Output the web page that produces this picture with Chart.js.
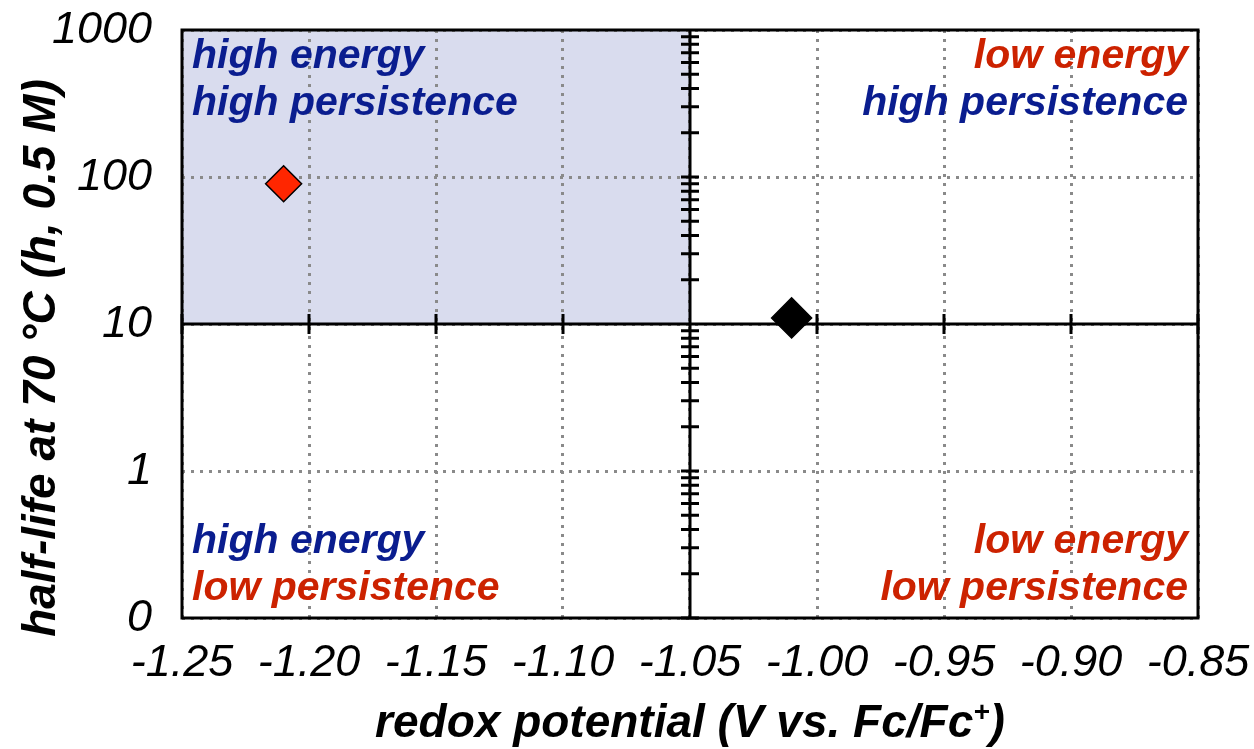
<!DOCTYPE html>
<html>
<head>
<meta charset="utf-8">
<script src="https://cdn.jsdelivr.net/npm/chart.js@4"></script>
<style>
  body { margin: 0; background: #fff; }
  #wrap { width: 1254px; height: 749px; }
</style>
</head>
<body>
<div id="wrap"><canvas id="chart"></canvas></div>
<script>
// data
const potentials = [-1.21, -1.01]
const halfLives = [90, 11]
const pointColors = ['#ff2600', '#000000']
const pointSizes = [18, 20]

const xTicks = [-1.25, -1.20, -1.15, -1.10, -1.05, -1.00, -0.95, -0.90, -0.85]
const yTicks = [0.1, 1, 10, 100, 1000]
const yTickLabels = ['0', '1', '10', '100', '1000']

// quadrant split and shaded box
const splitX = -1.05
const splitY = 10
const shadeX = [-1.25, -1.05]
const shadeY = [10, 1000]

const blue = '#0a1d8f'
const red = '#cc2200'
const topLeft = [['high energy', blue], ['high persistence', blue]]
const topRight = [['low energy', red], ['high persistence', blue]]
const bottomLeft = [['high energy', blue], ['low persistence', red]]
const bottomRight = [['low energy', red], ['low persistence', red]]

const xTitle = ['redox potential (V vs. Fc/Fc', '+', ')']
const yTitle = 'half-life at 70 \u00B0C (h, 0.5 M)'

const fontFamily = "'Liberation Sans', Arial, sans-serif"

const quadrants = {
    id: 'quadrants',
    beforeDraw(chart) {
        const {ctx, scales: {x, y}} = chart
        const x0 = x.getPixelForValue(shadeX[0])
        const x1 = x.getPixelForValue(shadeX[1])
        const y0 = y.getPixelForValue(shadeY[1])
        const y1 = y.getPixelForValue(shadeY[0])
        ctx.save()
        ctx.fillStyle = '#d9dcee'
        ctx.fillRect(x0, y0, x1 - x0, y1 - y0)
        ctx.restore()
    },
    beforeDatasetsDraw(chart) {
        const {ctx, chartArea: a, scales: {x, y}} = chart
        const px = x.getPixelForValue(splitX)
        const py = y.getPixelForValue(splitY)
        ctx.save()
        ctx.strokeStyle = '#000'
        ctx.lineWidth = 3
        ctx.beginPath()
        ctx.moveTo(px, a.top); ctx.lineTo(px, a.bottom)
        ctx.moveTo(a.left, py); ctx.lineTo(a.right, py)
        // log ticks on the vertical axis
        for (let d = 0; d < yTicks.length - 1; d++) {
            for (let m = 1; m < 10; m++) {
                const ty = y.getPixelForValue(yTicks[d] * m)
                ctx.moveTo(px - 9, ty); ctx.lineTo(px + 9, ty)
            }
        }
        // major ticks on the horizontal axis
        xTicks.forEach(v => {
            const tx = x.getPixelForValue(v)
            ctx.moveTo(tx, py - 10); ctx.lineTo(tx, py + 10)
        })
        ctx.stroke()

        ctx.font = 'italic bold 41px ' + fontFamily
        ctx.textBaseline = 'alphabetic'
        const put = (lines, xx, align, ys) => {
            ctx.textAlign = align
            lines.forEach((l, i) => {
                ctx.fillStyle = l[1]
                ctx.fillText(l[0], xx, ys[i])
            })
        }
        put(topLeft, a.left + 10, 'left', [a.top + 38, a.top + 85])
        put(topRight, a.right - 10, 'right', [a.top + 38, a.top + 85])
        put(bottomLeft, a.left + 10, 'left', [a.bottom - 65, a.bottom - 18])
        put(bottomRight, a.right - 10, 'right', [a.bottom - 65, a.bottom - 18])
        ctx.restore()
    },
    afterDraw(chart) {
        const {ctx, chartArea: a} = chart
        ctx.save()
        ctx.strokeStyle = '#000'
        ctx.lineWidth = 3
        ctx.strokeRect(a.left, a.top, a.right - a.left, a.bottom - a.top)

        // x title with superscript plus
        const big = 'italic bold 46px ' + fontFamily
        const small = 'italic bold 28px ' + fontFamily
        ctx.font = big
        const w0 = ctx.measureText(xTitle[0]).width
        const w2 = ctx.measureText(xTitle[2]).width
        ctx.font = small
        const w1 = ctx.measureText(xTitle[1]).width
        let tx = (a.left + a.right) / 2 - (w0 + w1 + w2) / 2
        const base = 737
        ctx.fillStyle = '#000'
        ctx.textAlign = 'left'
        ctx.textBaseline = 'alphabetic'
        ctx.font = big
        ctx.fillText(xTitle[0], tx, base)
        tx += w0
        ctx.font = small
        ctx.fillText(xTitle[1], tx, base - 16)
        tx += w1
        ctx.font = big
        ctx.fillText(xTitle[2], tx, base)

        // y title, rotated
        ctx.translate(55, 358)
        ctx.rotate(-Math.PI / 2)
        ctx.textAlign = 'center'
        ctx.font = big
        ctx.fillText(yTitle, 0, 0)
        ctx.restore()
    }
}

const ctx = document.getElementById('chart')
const chart = new Chart(ctx, {
    type: 'scatter',
    data: {
        datasets: potentials.map((p, i) => ({
            data: [{x: p, y: halfLives[i]}],
            pointStyle: 'rectRot',
            pointRadius: pointSizes[i],
            pointHoverRadius: pointSizes[i],
            backgroundColor: pointColors[i],
            borderColor: '#000',
            borderWidth: 1.5
        }))
    },
    options: {
        responsive: true,
        maintainAspectRatio: false,
        animation: false,
        layout: { padding: { top: 30, right: 56, left: 0, bottom: 0 } },
        plugins: { legend: { display: false }, tooltip: { enabled: false } },
        scales: {
            x: {
                type: 'linear',
                min: -1.25,
                max: -0.85,
                afterBuildTicks: (s) => { s.ticks = xTicks.map(v => ({value: v})) },
                afterFit: (s) => {
                    s.height = 131
                    s.paddingLeft = 0
                    s.paddingRight = 0
                },
                ticks: {
                    callback: (v) => v.toFixed(2),
                    color: '#000',
                    padding: 18,
                    maxRotation: 0,
                    font: { family: fontFamily, size: 45, style: 'italic' }
                },
                grid: { color: '#8a8a8a', lineWidth: 3, drawTicks: false },
                border: { display: false, dash: [3, 6] }
            },
            y: {
                type: 'logarithmic',
                min: 0.1,
                max: 1000,
                afterBuildTicks: (s) => { s.ticks = yTicks.map(v => ({value: v})) },
                afterFit: (s) => {
                    s.width = 182
                    s.paddingTop = 0
                    s.paddingBottom = 0
                },
                ticks: {
                    callback: (v) => yTickLabels[yTicks.indexOf(v)],
                    color: '#000',
                    padding: 30,
                    font: { family: fontFamily, size: 45, style: 'italic' }
                },
                grid: { color: '#8a8a8a', lineWidth: 3, drawTicks: false },
                border: { display: false, dash: [3, 6] }
            }
        }
    },
    plugins: [quadrants]
})
</script>
</body>
</html>
